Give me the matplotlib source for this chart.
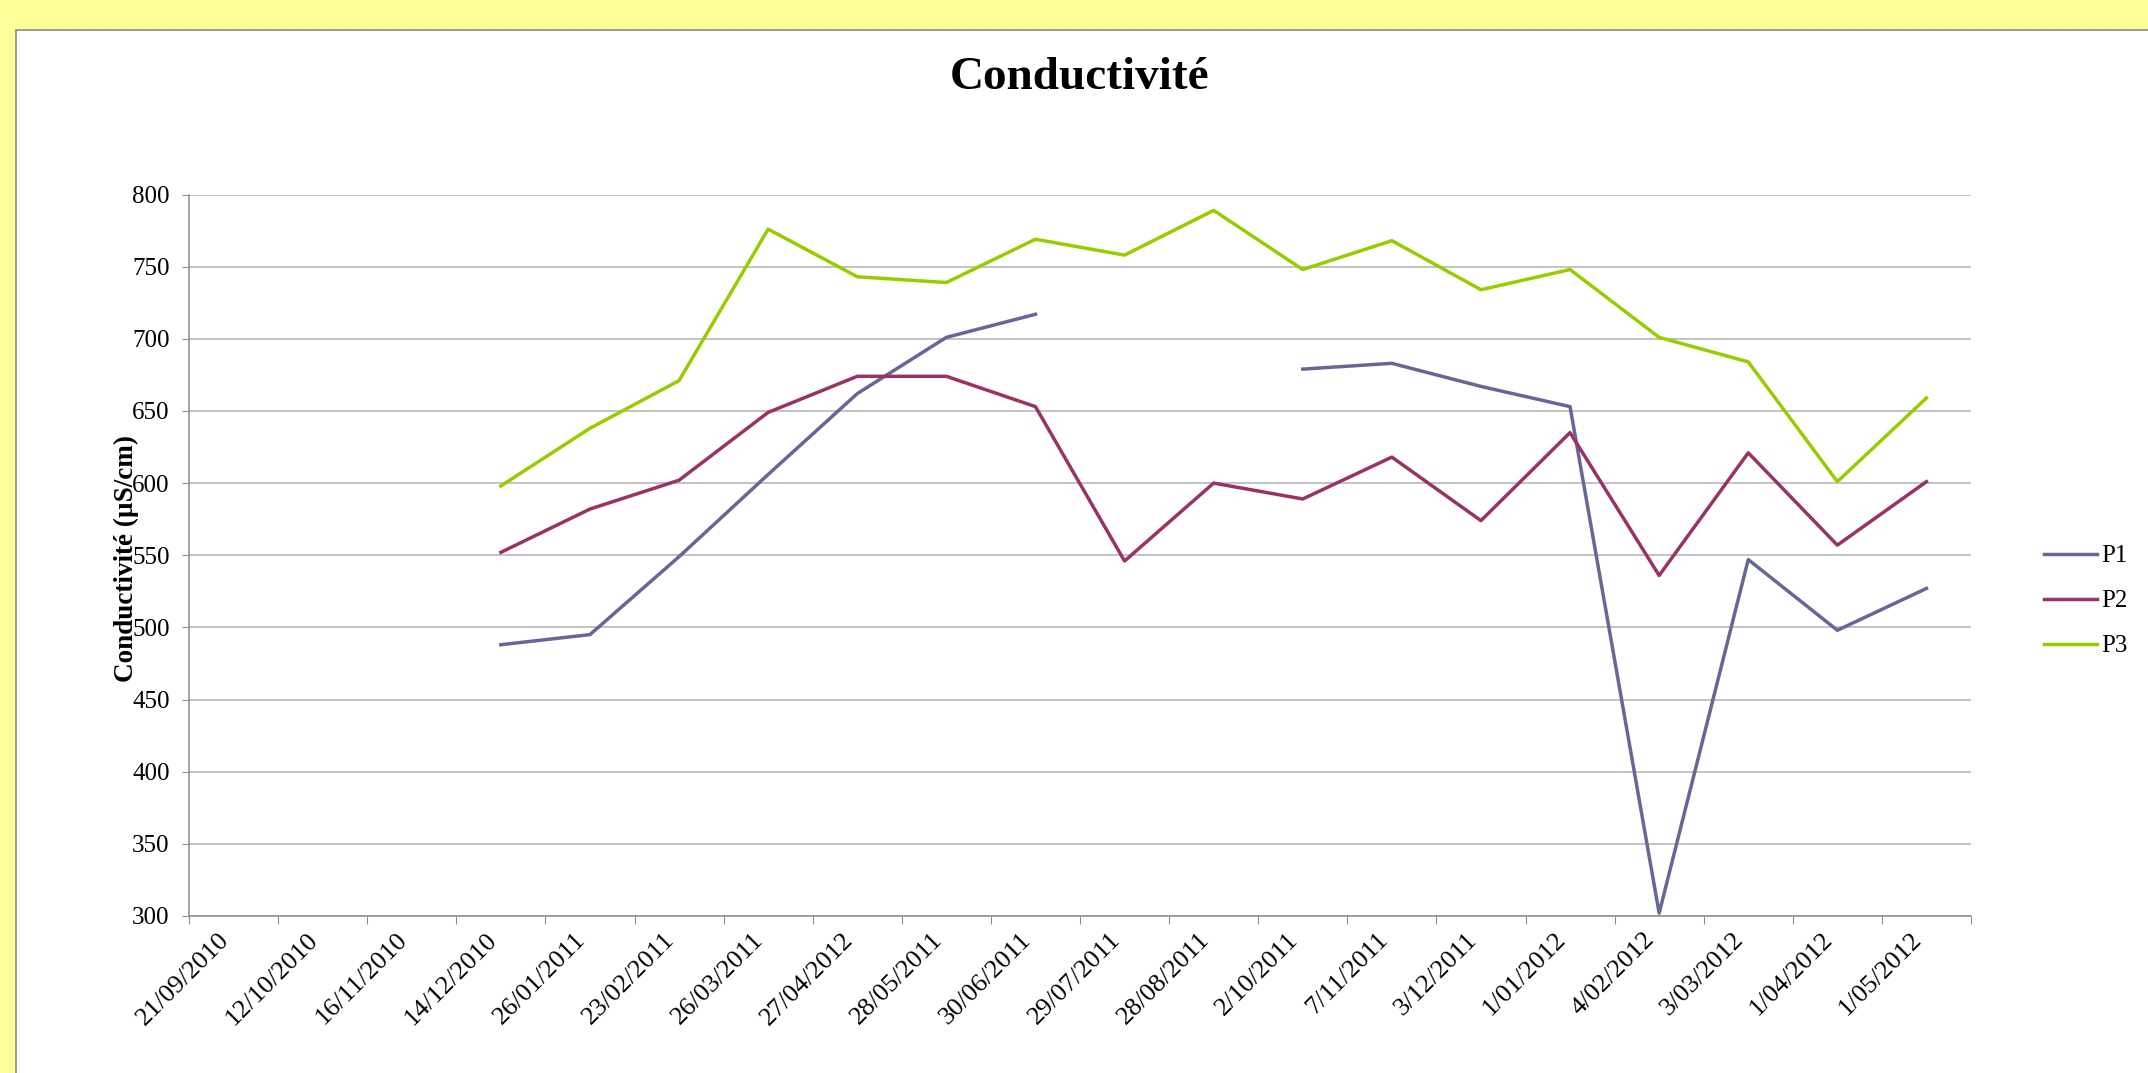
import numpy as np
import matplotlib
matplotlib.use("Agg")
import matplotlib.pyplot as plt
from matplotlib.patches import Rectangle

plt.rcParams['font.family'] = ['Liberation Serif', 'DejaVu Serif']

dates = ["21/09/2010", "12/10/2010", "16/11/2010", "14/12/2010", "26/01/2011",
         "23/02/2011", "26/03/2011", "27/04/2012", "28/05/2011", "30/06/2011",
         "29/07/2011", "28/08/2011", "2/10/2011", "7/11/2011", "3/12/2011",
         "1/01/2012", "4/02/2012", "3/03/2012", "1/04/2012", "1/05/2012"]

nan = np.nan
p1 = [nan, nan, nan, 488, 495, 549, 606, 662, 701, 717,
      nan, nan, 679, 683, 667, 653, 302, 547, 498, 527]
p2 = [nan, nan, nan, 552, 582, 602, 649, 674, 674, 653,
      546, 600, 589, 618, 574, 635, 536, 621, 557, 601]
p3 = [nan, nan, nan, 598, 638, 671, 776, 743, 739, 769,
      758, 789, 748, 768, 734, 748, 701, 684, 601, 659]

series = [("P1", p1, "#666699"), ("P2", p2, "#993366"), ("P3", p3, "#99CC00")]

W, H = 2148, 1073
fig = plt.figure(figsize=(W / 100, H / 100), dpi=100)
fig.patch.set_facecolor("#FFFF99")

# white chart panel (only left and top borders visible)
fig.add_artist(Rectangle((16 / W, -0.05), 1.0, 1 - 30 / H + 0.05,
                         transform=fig.transFigure, facecolor="white",
                         edgecolor="#8c8c8c", lw=1.2, zorder=0))

ax = fig.add_axes([189 / W, 157 / H, 1782 / W, 721.5 / H])
ax.set_facecolor("none")

x = np.arange(len(dates))
for name, vals, col in series:
    ax.plot(x, vals, color=col, lw=2.5, label=name)

ax.set_xlim(-0.5, len(dates) - 0.5)
ax.set_ylim(300, 800)
ax.set_yticks(np.arange(300, 801, 50))
ax.grid(axis="y", color="#b3b3b3", lw=1.1)
ax.set_axisbelow(True)

# ticks on category boundaries, labels under centers
ax.set_xticks(np.arange(-0.5, len(dates), 1.0))
ax.set_xticklabels([])
ax.set_xticks(x, minor=True)
ax.set_xticklabels(dates, minor=True, rotation=45, ha="right", fontsize=19)
ax.tick_params(axis="x", which="major", direction="out", length=6, color="#8c8c8c")
ax.tick_params(axis="x", which="minor", length=0, pad=9)
ax.tick_params(axis="y", direction="out", length=5, color="#8c8c8c", pad=9,
               labelsize=18)

for s in ["top", "right"]:
    ax.spines[s].set_visible(False)
for s in ["left", "bottom"]:
    ax.spines[s].set_color("#8c8c8c")
    ax.spines[s].set_linewidth(1.1)

fig.text(1080 / W, 1 - 78 / H, "Conductivité", ha="center", va="center",
         fontsize=34, fontweight="bold")
fig.text(126 / W, 1 - 559 / H, "Conductivité (µS/cm)", ha="center", va="center",
         rotation=90, fontsize=19.5, fontweight="bold")

ax.legend(loc="center left", bbox_to_anchor=(2044 / W, 1 - 601 / H),
          bbox_transform=fig.transFigure, frameon=False, fontsize=18,
          borderpad=0, borderaxespad=0, handlelength=2.1, handletextpad=0.2,
          labelspacing=0.9)

fig.savefig("out.png", dpi=100, facecolor=fig.get_facecolor())
